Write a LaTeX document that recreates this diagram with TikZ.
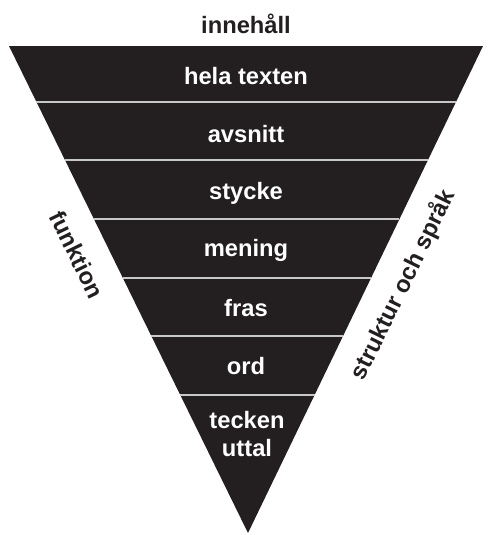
\documentclass[tikz,border=0pt]{standalone}
\usepackage{fontspec}
\setmainfont{Liberation Sans}
\usepackage{tikz}
\usetikzlibrary{calc,positioning}
\usepackage{xcolor}
\definecolor{pyrdark}{RGB}{35,31,32}
\definecolor{pyrline}{RGB}{200,200,200}
\tikzstyle{pyramid} = [fill=pyrdark]
\tikzstyle{divider} = [line width=1.1pt, color=pyrline]
\tikzstyle{bandtext} = [font=\fontsize{13.5}{15.5}\selectfont\bfseries, text=white, align=center, inner sep=0pt]
\tikzstyle{sidetext} = [font=\fontsize{13.5}{15.5}\selectfont\bfseries, text=pyrdark, inner sep=0pt]

\begin{document}
\begin{tikzpicture}[x=0.02cm, y=-0.02cm]
\useasboundingbox (0,0) rectangle (488,535);
% Triangle
\coordinate (tl) at (9,46);
\coordinate (tr) at (483,46);
\coordinate (apex) at (248,533);
\fill[pyramid] (tl) -- (tr) -- (apex) -- cycle;

% Dividers
\foreach \f in {0.115,0.235,0.356,0.476,0.596,0.717}
  \draw[divider] ($(tl)!\f!(apex)$) -- ($(tr)!\f!(apex)$);

% Levels
\node (top) [sidetext] at (246,24) {innehåll};
\node (hela) [bandtext] at (246,76) {hela texten};
\node (avsnitt) [bandtext] at (246,134) {avsnitt};
\node (stycke) [bandtext] at (246,193) {stycke};
\node (mening) [bandtext] at (246,250) {mening};
\node (fras) [bandtext] at (246,308) {fras};
\node (ord) [bandtext] at (246,366) {ord};
\node (tecken) [bandtext] at (247,434) {tecken\\uttal};

% Sides
\node (funktion) [sidetext, rotate=-63.9] at (77,255) {funktion};
\node (struktur) [sidetext, rotate=63.9] at (403,285) {struktur och språk};
\end{tikzpicture}
\end{document}
